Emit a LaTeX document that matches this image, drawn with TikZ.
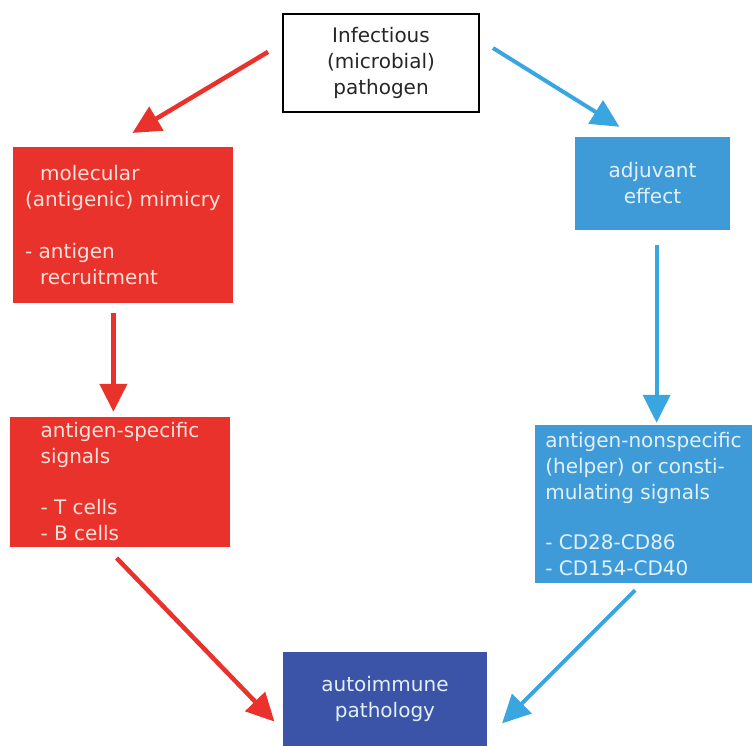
\documentclass[tikz,border=0pt]{standalone}
\usepackage{fontspec}
\setmainfont{DejaVu Sans}
\usepackage{xcolor}
\usetikzlibrary{arrows.meta}

\definecolor{mimred}{HTML}{E8322B}
\definecolor{adjblue}{HTML}{3E9BD8}
\definecolor{arrowblue}{HTML}{3AA6E0}
\definecolor{autoblue}{HTML}{3B54A7}
\definecolor{redtext}{HTML}{FBE2DA}
\definecolor{bluetext}{HTML}{E3F0FA}

\begin{document}
\begin{tikzpicture}[x=1pt,y=-1pt,
		box/.style={rectangle, inner sep=0pt, align=left, font=\fontsize{20}{26}\selectfont},
		redbox/.style={box, fill=mimred, text=redtext},
		bluebox/.style={box, fill=adjblue, text=bluetext},
		redarrow/.style={draw=mimred, line width=4.5pt, -{Triangle[length=28pt,width=27pt]}},
		bluearrow/.style={draw=arrowblue, line width=4pt, -{Triangle[length=28pt,width=27pt]}}]
		\useasboundingbox (0,0) rectangle (752,746);
		% boxes
		\node[box, draw=black, line width=2.5pt, align=center, text=black!85, minimum width=196pt, minimum height=98pt] (pathogen) at (381,63) {Infectious\\(microbial)\\pathogen};
		\node[redbox, minimum width=220pt, minimum height=156pt] (mimicry) at (123,225) {\hspace*{15pt}molecular\\(antigenic) mimicry\\[26pt]- antigen\\\hspace*{15pt}recruitment};
		\node[bluebox, align=center, minimum width=155pt, minimum height=93pt] (adjuvant) at (652.5,183.5) {adjuvant\\effect};
		\node[redbox, minimum width=220pt, minimum height=130pt] (specific) at (120,482) {antigen-specific\\signals\\[25pt]- T cells\\- B cells};
		\node[bluebox, minimum width=217pt, minimum height=158pt] (helper) at (643.5,504) {antigen-nonspecific\\(helper) or consti-\\mulating signals\\[24pt]- CD28-CD86\\- CD154-CD40};
		\node[box, fill=autoblue, text=bluetext, align=center, minimum width=204pt, minimum height=94pt] (autoimm) at (385,699) {autoimmune\\pathology};
		% arrows
		\draw[redarrow, shorten <=16pt, shorten >=27pt] (pathogen.169) -- (mimicry.100);
		\draw[bluearrow, shorten <=15pt, shorten >=19pt] (pathogen.13) -- (adjuvant.110);
		\draw[redarrow, shorten <=10pt, shorten >=5pt] (mimicry.263) -- (mimicry.263 |- specific.north);
		\draw[bluearrow, shorten <=15pt, shorten >=2pt] (adjuvant.275) -- (adjuvant.275 |- helper.north);
		\draw[redarrow, shorten <=15pt, shorten >=12pt] (specific.258) -- (autoimm.197);
		\draw[bluearrow, shorten <=10pt, shorten >=21pt] (helper.269) -- (autoimm.339);
	\end{tikzpicture}
\end{document}
